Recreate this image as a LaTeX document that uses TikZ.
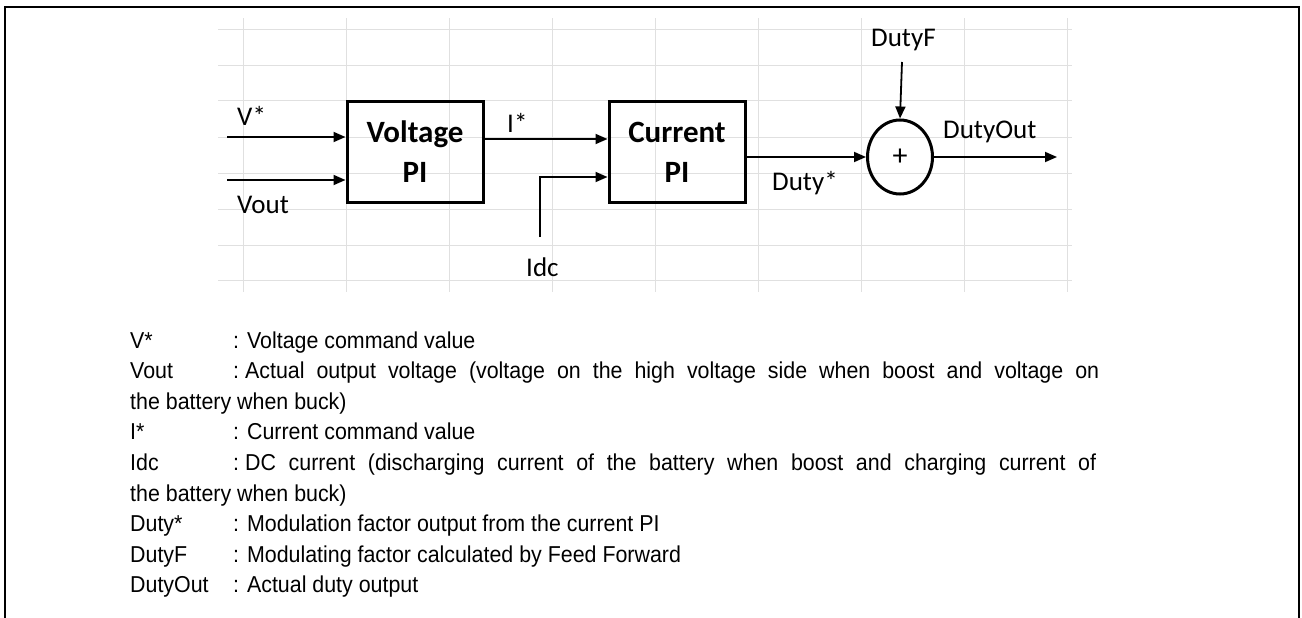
\documentclass[tikz,border=0pt]{standalone}
\usepackage{fontspec}
\usetikzlibrary{arrows.meta,shapes.geometric}
\newfontfamily\calfont{Carlito}
\newfontfamily\legfont{Liberation Sans}[FakeStretch=0.93]

\tikzset{
  gridline/.style={draw=black!12, line width=1pt},
  block/.style={draw, line width=3pt, minimum width=136pt, minimum height=100pt, align=center,
    font=\calfont\bfseries\fontsize{31}{40}\selectfont},
  sig/.style={line width=1.8pt, -{Triangle[length=12pt,width=10pt]}},
  lbl/.style={anchor=base west, inner sep=0pt, font=\calfont\fontsize{27}{32}\selectfont},
  leg/.style={anchor=base west, inner sep=0pt, font=\legfont\fontsize{23}{28}\selectfont}
}

\begin{document}
\begin{tikzpicture}[x=1pt, y=-1pt]
	\useasboundingbox (0,0) rectangle (1302,618);
	\draw[line width=2pt] (5,618) -- (5,7) -- (1299,7) -- (1299,618);

	% spreadsheet grid
	\foreach \gy in {30,66,101,137,173,209,245,280}
		\draw[gridline] (218,\gy) -- (1072,\gy);
	\foreach \gx in {243,346,449,552,655,758,861,964,1067}
		\draw[gridline] (\gx,18) -- (\gx,292);

	\node[block] (vpi) at (415,152) {Voltage\\PI};
	\node[block] (cpi) at (677,152) {Current\\PI};
	\node[draw, ellipse, line width=3pt, minimum width=65pt, minimum height=74pt, inner sep=0pt,
		font=\calfont\fontsize{30}{32}\selectfont] (sum) at (900,157) {+};

	\coordinate (vin) at (227,137);
	\coordinate (voutin) at (227,180);
	\coordinate (idcin) at (540,237);
	\coordinate (dfin) at (902,62);
	\coordinate (dout) at (1057,157);

	\draw[sig] (vin) -- (vin -| vpi.west);
	\draw[sig] (voutin) -- (voutin -| vpi.west);
	\draw[sig] (vpi.east |- 0,139) -- (cpi.west |- 0,139);
	\draw[sig] (idcin) |- (cpi.west |- 0,177);
	\draw[sig] (cpi.east |- sum) -- (sum.west);
	\draw[sig] (dfin) -- (sum.north);
	\draw[sig] (sum.east) -- (dout);

	\node[lbl] (lvs) at (237,125) {V*};
	\node[lbl] (lvo) at (237,213) {Vout};
	\node[lbl] (lis) at (507,132) {I*};
	\node[lbl] (lidc) at (526,276) {Idc};
	\node[lbl] (lds) at (772,190) {Duty*};
	\node[lbl] (ldf) at (871,47) {DutyF};
	\node[lbl] (ldo) at (943,138) {DutyOut};

	% legend
	\node[leg] (t1) at (130,348) {V*};
	\node[leg] (d1) at (233,348) {: Voltage command value};
	\node[leg] (t2) at (130,378.6) {Vout};
	\node[leg] (d2) at (233,378.6) {\makebox[866pt][s]{:\kern6pt Actual output voltage (voltage on the high voltage side when boost and voltage on}};
	\node[leg] (d2b) at (130,409.2) {the battery when buck)};
	\node[leg] (t3) at (130,439.8) {I*};
	\node[leg] (d3) at (233,439.8) {: Current command value};
	\node[leg] (t4) at (130,470.4) {Idc};
	\node[leg] (d4) at (233,470.4) {\makebox[863pt][s]{:\kern6pt DC current (discharging current of the battery when boost and charging current of}};
	\node[leg] (d4b) at (130,501) {the battery when buck)};
	\node[leg] (t5) at (130,531.6) {Duty*};
	\node[leg] (d5) at (233,531.6) {: Modulation factor output from the current PI};
	\node[leg] (t6) at (130,562.2) {DutyF};
	\node[leg] (d6) at (233,562.2) {: Modulating factor calculated by Feed Forward};
	\node[leg] (t7) at (130,592.8) {DutyOut};
	\node[leg] (d7) at (233,592.8) {: Actual duty output};
\end{tikzpicture}
\end{document}
